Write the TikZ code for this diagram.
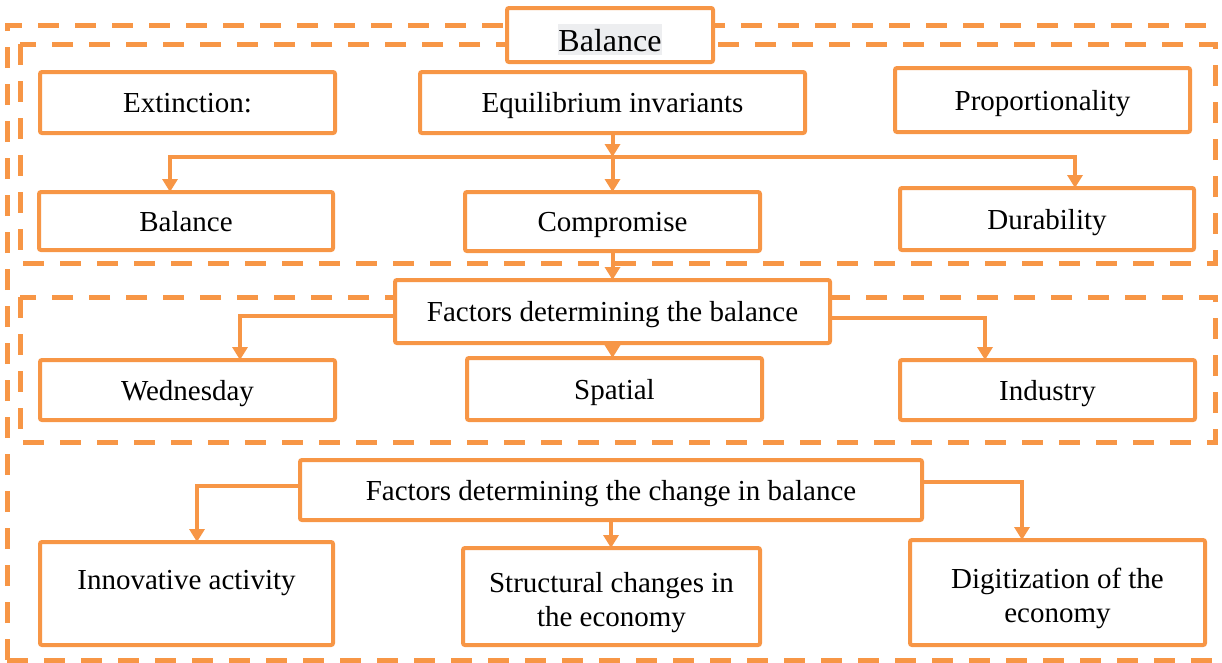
\documentclass[tikz,border=0pt]{standalone}
\usepackage{fontspec}
\setmainfont{Liberation Serif}
\usetikzlibrary{arrows.meta}
\definecolor{acc}{HTML}{F79646}
\definecolor{hl}{HTML}{EDEEF0}

% every text line gets the same height and depth
\newcommand\linestrut{\rule[-7pt]{0pt}{34pt}}
% taller first line for the two-line boxes
\newcommand\firststrut{\rule[-7pt]{0pt}{40pt}}

\tikzset{
  box/.style={draw=acc, line width=4pt, fill=white, rounded corners=2pt,
    inner sep=0pt, outer sep=0pt, align=center,
    font=\fontsize{29}{34}\selectfont},
  frame/.style={draw=acc, line width=5pt, dash pattern=on 21pt off 16pt},
  link/.style={draw=acc, line width=4pt,
    -{Triangle[length=13pt,width=15pt]}},
}

\begin{document}
\begin{tikzpicture}[x=1pt,y=-1pt]
\useasboundingbox (0,0) rectangle (1222,662);
\clip (0,0) rectangle (1222,662);

% dashed group frames
\draw[frame] (7,660) -- (7,25) -- (1240,25);
\draw[frame] (7,660) -- (1240,660);
\draw[frame] (20,44) rectangle (1215,263);
\draw[frame] (20,297) rectangle (1215,442);

% title box, its word on a grey highlight
\node[box, minimum width=206, minimum height=54] (top) at (610,35)
  {\linestrut\raisebox{-6pt}[0pt][0pt]{\fontsize{32}{34}\selectfont
   \setlength\fboxsep{0pt}\colorbox{hl}{\rule[-4pt]{0pt}{31pt}Balance}}};

% boxes
\node[box, minimum width=295, minimum height=61] (ext) at (187.5,102.5) {\linestrut Extinction:};
\node[box, minimum width=385, minimum height=61] (equ) at (612.5,102.5) {\linestrut Equilibrium invariants};
\node[box, minimum width=295, minimum height=64] (prop) at (1042.5,100) {\linestrut Proportionality};

\node[box, minimum width=294, minimum height=58] (bal) at (186,221) {\linestrut Balance};
\node[box, minimum width=295, minimum height=59] (comp) at (612.5,221.5) {\linestrut Compromise};
\node[box, minimum width=294, minimum height=62] (dur) at (1047,219) {\linestrut Durability};

\node[box, minimum width=435, minimum height=63] (fb) at (612.5,311.5) {\linestrut Factors determining the balance};

\node[box, minimum width=295, minimum height=60] (wed) at (187.5,390) {\linestrut Wednesday};
\node[box, minimum width=295, minimum height=62] (spa) at (614.5,389) {\linestrut Spatial};
\node[box, minimum width=295, minimum height=60] (ind) at (1047.5,390) {\linestrut Industry};

\node[box, minimum width=622, minimum height=60] (fc) at (611,490) {\linestrut Factors determining the change in balance};

\node[box, minimum width=293, minimum height=103] (inn) at (186.5,593.5)
  {\firststrut Innovative activity\\\linestrut};
\node[box, minimum width=297, minimum height=97] (str) at (611.5,596.5)
  {\firststrut Structural changes in\\\linestrut the economy};
\node[box, minimum width=295, minimum height=105] (dig) at (1057.5,592.5)
  {\firststrut Digitization of the\\\linestrut economy};

% connectors
\coordinate (hub) at (612.5,157);
\draw[link] (equ.south) -- (hub);
\draw[link] (hub) -| ([xshift=-16pt]bal.north);
\draw[link] (hub) -| ([xshift=28pt]dur.north);
\draw[link] (hub) -- (comp.north);
\draw[link] (comp.south) -- (fb.north);

\draw[link] ([yshift=-4pt]fb.west) -| ([xshift=52.5pt]wed.north);
\draw[link] ([yshift=-6pt]fb.east) -| ([xshift=-62.5pt]ind.north);
\draw[link] (fb.south) -- (fb.south |- spa.north);

\draw[link] ([yshift=4pt]fc.west) -| ([xshift=10.5pt]inn.north);
\draw[link] ([yshift=8pt]fc.east) -| ([xshift=-35.5pt]dig.north);
\draw[link] (fc.south) -- (fc.south |- str.north);
\end{tikzpicture}
\end{document}
